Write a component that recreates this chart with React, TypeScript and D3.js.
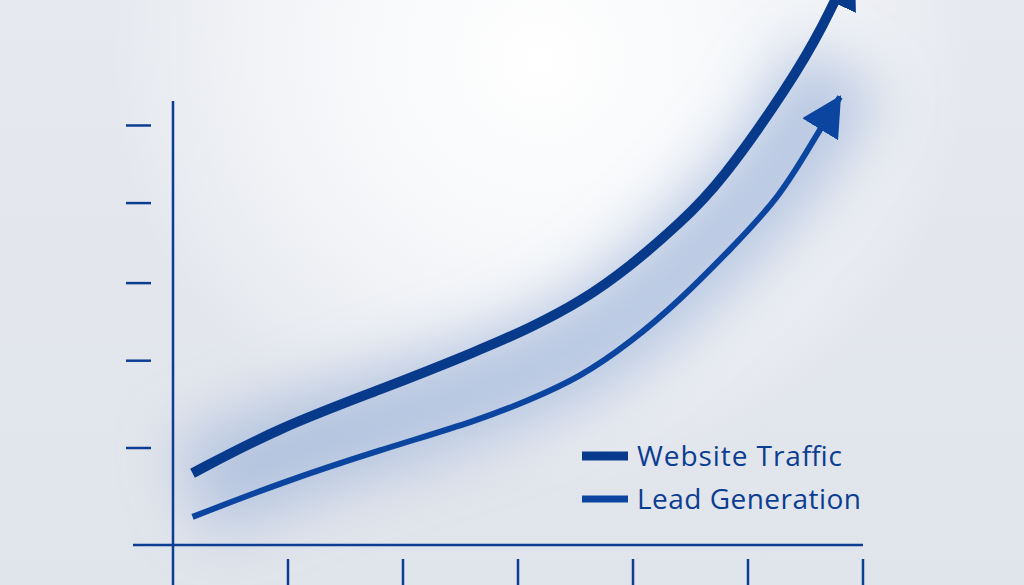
import React from "react";
import * as d3 from "d3";

// values (x in periods, y in index units)
const xTicks = [1, 2, 3, 4, 5, 6];
const yTicks = [20, 38, 54, 70.5, 86.5];

const trafficX = [0.17, 0.93, 1.8, 2.67, 3.1, 3.54, 3.97, 4.41, 4.76, 5.37, 5.65, 5.92];
const trafficY = [14.8, 24.3, 32.0, 40.2, 44.7, 50.1, 57.3, 66.4, 74.6, 95.3, 106.8, 120.4];

const leadX = [0.17, 0.93, 1.8, 2.67, 3.1, 3.54, 3.97, 4.41, 4.84, 5.28, 5.57, 5.8];
const leadY = [5.8, 12.8, 19.6, 25.8, 29.9, 34.6, 41.6, 50.5, 60.8, 71.8, 83.5, 92.4];

const seriesNames = ["Website Traffic", "Lead Generation"];
const legendWidths = [205, 224];

const W = 1024;
const H = 585;

const App = () => {
  const x = d3.scaleLinear().domain([0, 6]).range([173, 863]);
  const y = d3.scaleLinear().domain([0, 100]).range([545, 60]);

  const line = d3
    .line<[number, number]>()
    .x((d) => x(d[0]))
    .y((d) => y(d[1]))
    .curve(d3.curveBasis);

  const traffic = trafficX.map((v, i) => [v, trafficY[i]] as [number, number]);
  const lead = leadX.map((v, i) => [v, leadY[i]] as [number, number]);
  // halo follows the band between both series
  const halo = leadX.map((v, i) => [v, leadY[i] + 6] as [number, number]);

  const axisColor = "#0b3e92";

  return (
    <svg
      width={W}
      height={H}
      style={{ position: "absolute", left: 0, top: 0 }}
    >
      <defs>
        <linearGradient id="bg" x1="0" y1="0" x2="0" y2="1">
          <stop offset="0" stopColor="#e6e9ef" />
          <stop offset="1" stopColor="#e0e4eb" />
        </linearGradient>
        <radialGradient id="glow" cx="540" cy="60" r="430" gradientUnits="userSpaceOnUse">
          <stop offset="0" stopColor="#ffffff" stopOpacity="1" />
          <stop offset="0.45" stopColor="#fbfcfd" stopOpacity="0.8" />
          <stop offset="1" stopColor="#ffffff" stopOpacity="0" />
        </radialGradient>
        <filter id="blur" x="-30%" y="-30%" width="160%" height="160%">
          <feGaussianBlur stdDeviation="30" />
        </filter>
        <marker
          id="arrowT"
          markerUnits="userSpaceOnUse"
          viewBox="0 0 48 48"
          markerWidth="48"
          markerHeight="48"
          refX="46"
          refY="24"
          orient="auto"
        >
          <path d="M0,0 L48,24 L0,48 Z" fill="#083a8c" />
        </marker>
        <marker
          id="arrowL"
          markerUnits="userSpaceOnUse"
          viewBox="0 0 40 42"
          markerWidth="40"
          markerHeight="42"
          refX="38"
          refY="21"
          orient="auto"
        >
          <path d="M0,0 L40,21 L0,42 Z" fill="#0c45a0" />
        </marker>
      </defs>

      <rect width={W} height={H} fill="url(#bg)" />
      <rect width={W} height={H} fill="url(#glow)" />

      {/* soft blue shadow along the curves */}
      <path
        d={line(halo) ?? ""}
        fill="none"
        stroke="#9fb5da"
        strokeOpacity={0.7}
        strokeWidth={100}
        filter="url(#blur)"
      />

      {/* axes */}
      <line x1={x(0)} x2={x(0)} y1={101} y2={H} stroke={axisColor} strokeWidth={2.5} />
      <line x1={133} x2={x(6)} y1={y(0)} y2={y(0)} stroke={axisColor} strokeWidth={2.5} />
      {yTicks.map((t) => (
        <line
          key={"y" + t}
          x1={126}
          x2={151}
          y1={y(t)}
          y2={y(t)}
          stroke={axisColor}
          strokeWidth={2.5}
        />
      ))}
      {xTicks.map((t) => (
        <line
          key={"x" + t}
          x1={x(t)}
          x2={x(t)}
          y1={559}
          y2={H}
          stroke={axisColor}
          strokeWidth={2.5}
        />
      ))}

      {/* series */}
      <path
        d={line(lead) ?? ""}
        fill="none"
        stroke="#0c45a0"
        strokeWidth={6}
        markerEnd="url(#arrowL)"
      />
      <path
        d={line(traffic) ?? ""}
        fill="none"
        stroke="#083a8c"
        strokeWidth={10}
        markerEnd="url(#arrowT)"
      />

      {/* legend */}
      {seriesNames.map((name, i) => (
        <g key={name} transform={`translate(582, ${456 + i * 43})`}>
          <line
            x1={0}
            x2={46}
            y1={0}
            y2={0}
            stroke={i === 0 ? "#083a8c" : "#0c45a0"}
            strokeWidth={i === 0 ? 9 : 7}
          />
          <text
            x={55}
            y={10}
            fontFamily="'Open Sans', sans-serif"
            fontSize={28}
            textLength={legendWidths[i]}
            lengthAdjust="spacing"
            fill="#0b3d91"
          >
            {name}
          </text>
        </g>
      ))}
    </svg>
  );
};

export default App;
